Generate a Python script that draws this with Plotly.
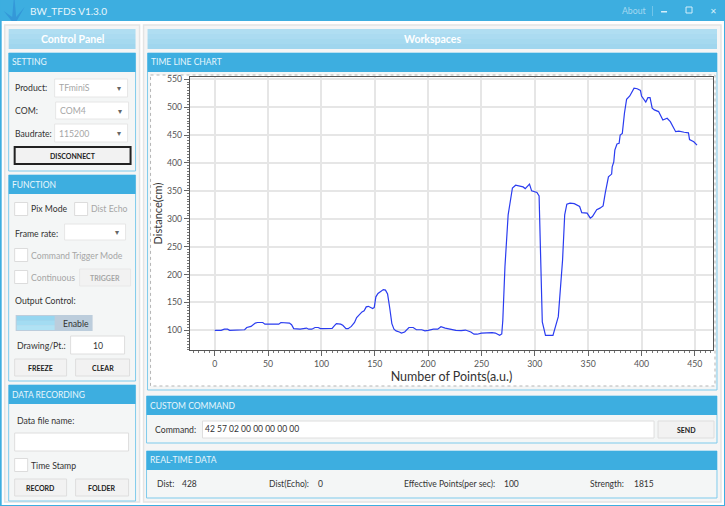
"""
BW_TFDS time line chart - the app window rebuilt around one Plotly line chart.
"""

import plotly.graph_objects as go

# ── Data ───────────────────────────────────────────────────────────────────────

point_index = [
    0, 6, 9, 12, 14, 22, 28, 30, 34, 38, 40, 45, 47, 55, 60, 62, 65, 70, 72, 74,
    80, 84, 86, 88, 91, 94, 97, 99, 104, 107, 110, 112, 114, 118, 120, 123, 125,
    128, 131, 133, 136, 138, 140, 142, 144, 146, 148, 149.5, 151, 153, 156, 158,
    160, 162, 164, 166, 168, 170, 173, 175, 178, 180, 182, 186, 189, 194, 197,
    200, 205, 209, 212, 216, 221, 226, 231, 235, 240, 243, 246, 250, 260, 263,
    267, 269, 270, 272, 275, 277, 279, 282, 285, 289, 291, 293, 295, 297, 302,
    304, 305, 307, 310, 317, 322, 326, 328, 330, 333, 337, 342, 344, 349, 352,
    354, 358, 361, 364, 366, 369, 372, 372.5, 374, 375, 377, 379, 380, 382, 384,
    386, 389, 391, 393, 396, 399, 400, 404, 406, 408, 410, 412, 416, 420, 424,
    427, 432, 435, 440, 444, 445, 449, 452,
]
distance_cm = [
    100, 100, 102, 102, 100, 100.5, 101, 105, 107, 113, 114, 114, 111, 111, 111,
    114, 114, 113, 110, 103, 102, 103, 104, 102, 102, 105, 105, 103, 103, 104,
    103.5, 108, 112, 111, 109, 103, 103, 107, 114, 123, 129, 133, 135, 142, 143,
    141, 139, 141, 160, 166, 171, 173, 172, 165, 140, 112, 102, 99, 97, 95, 97,
    101, 105, 105, 101, 101, 99, 100, 102, 102, 106.5, 104, 102, 100, 99.5, 100.5,
    97, 93, 93, 95, 96, 95, 91, 93.5, 118, 214, 307, 334, 355, 360, 359, 357, 354,
    359, 362, 350, 347, 341, 268, 115, 91, 91, 124.5, 226, 307, 326, 328, 327,
    322, 311, 310, 301, 304, 316, 319, 323, 346, 375, 380, 393, 402, 423, 434,
    435, 450, 453, 489, 514, 520, 528, 534, 533, 530, 520, 509, 517, 517, 498,
    495, 492, 477, 480, 474, 456, 457, 455, 454, 442, 438, 432,
]

x_ticks = [0, 50, 100, 150, 200, 250, 300, 350, 400, 450]
y_ticks = [100, 150, 200, 250, 300, 350, 400, 450, 500, 550]

# ── Colours and window layout (pixels of the 725x506 window) ───────────────────

BLUE = "#3daee0"
EDGE = "#7fcbec"
PANEL = "#f4f6f6"
CARD = "#f5f5f5"
BUTTON = "#f2f2f2"
GREY_LINE = "#dedede"
TEXT = "#333333"
FADED = "#a6a6a6"
FONT = "Lato"

PLOT_L, PLOT_R, PLOT_T, PLOT_B = 189.5, 713, 77, 350
WIDTH, HEIGHT = 725, 506

shapes = []
notes = []


def px(x):
    return (x - PLOT_L) / (PLOT_R - PLOT_L)


def py(y):
    return (PLOT_B - y) / (PLOT_B - PLOT_T)


def box(x0, y0, x1, y1, fill=None, line=None, lw=1, dash=None):
    """Rectangle given in window pixels."""
    shapes.append(dict(
        type="rect", xref="paper", yref="paper", layer="below",
        x0=px(x0), x1=px(x1), y0=py(y0), y1=py(y1),
        fillcolor=fill or "rgba(0,0,0,0)",
        line=dict(color=line or "rgba(0,0,0,0)", width=lw if line else 0, dash=dash),
    ))


def label(x, y, text, size=8.7, color=TEXT, anchor="left", bold=False):
    """Text placed at window pixels, y is the middle of the line."""
    notes.append(dict(
        xref="paper", yref="paper", x=px(x - 3 if anchor == "left" else x), y=py(y),
        text=f"<b>{text}</b>" if bold else text,
        showarrow=False, xanchor=anchor, yanchor="middle",
        font=dict(family=FONT, size=size, color=color),
    ))


def gradient_bar(x0, y0, x1, y1, top, bottom, steps=4):
    """Light blue bar, faded in a few flat strips."""
    tr, tg, tb = top
    br, bg, bb = bottom
    h = (y1 - y0) / steps
    for i in range(steps):
        t = i / (steps - 1)
        c = f"rgb({tr + (br - tr) * t:.0f},{tg + (bg - tg) * t:.0f},{tb + (bb - tb) * t:.0f})"
        box(x0, y0 + i * h, x1, y0 + (i + 1) * h, fill=c)


def section(x0, y0, x1, y1, title):
    """Panel with a blue header strip."""
    box(x0, y0, x1, y1, fill=PANEL, line=EDGE)
    box(x0, y0, x1, y0 + 19, fill=BLUE)
    label(x0 + 4, y0 + 9.5, title, size=8.5, color="#e8f6fc")


def button(x0, y0, x1, y1, text, color="#222222", line=GREY_LINE, lw=1):
    box(x0, y0, x1, y1, fill=BUTTON, line=line, lw=lw)
    label((x0 + x1) / 2, (y0 + y1) / 2, text, size=7, color=color, anchor="center", bold=True)


def combo(x0, y0, x1, y1, text=""):
    box(x0, y0, x1, y1, fill="#ffffff", line="#e6e6e6")
    if text:
        label(x0 + 5, (y0 + y1) / 2, text, color=FADED)
    label(x1 - 9, (y0 + y1) / 2, "▾", size=8, color="#666666", anchor="center")


def check(x, y, text, color=TEXT):
    box(x, y - 6.5, x + 13, y + 6.5, fill="#ffffff", line="#dcdcdc")
    label(x + 17, y, text, color=color)


# ── Window chrome ──────────────────────────────────────────────────────────────

box(0, 0, WIDTH, HEIGHT, fill="#ffffff", line=BLUE, lw=2)
box(0, 0, WIDTH, 21, fill=BLUE)
shapes.append(dict(
    type="path", xref="paper", yref="paper", layer="below",
    path=(f"M {px(3)} {py(11)} L {px(11.5)} {py(17)} L {px(13)} {py(0)} L {px(14)} {py(0)} "
          f"L {px(15.5)} {py(17)} L {px(24)} {py(7)} L {px(16)} {py(21)} L {px(11)} {py(21)} Z"),
    fillcolor="#3498d8", line=dict(width=0),
))
label(30, 10.5, "BW_TFDS V1.3.0", size=10, color="#e8f6fc")
label(634, 10.5, "About", size=8.7, color="#a5d9f1", anchor="center")
box(652.3, 6, 652.8, 16, fill="#a5d9f1")
box(661, 11, 667, 12.5, fill="#d5eefa")
box(686, 7, 692, 13, line="#d5eefa")
label(713, 10.5, "✕", size=8, color="#d5eefa", anchor="center")

# left and right column cards
box(4, 25, 139, 502, fill=CARD, line="#e4e4e4", lw=1.5)
box(143, 25, 721, 502, fill=CARD, line="#e4e4e4", lw=1.5)

gradient_bar(8, 29, 135, 49, (176, 222, 242), (160, 214, 238))
label(71.5, 39, "Control Panel", size=10.5, color="#ffffff", anchor="center", bold=True)
gradient_bar(147, 29, 717, 49, (176, 222, 242), (160, 214, 238))
label(432, 39, "Workspaces", size=10.5, color="#ffffff", anchor="center", bold=True)

# ── SETTING ───────────────────────────────────────────────────────────────────

section(8, 53, 135, 171, "SETTING")
label(15, 88, "Product:")
combo(54, 79, 127, 97, "TFminiS")
label(15, 110.5, "COM:")
combo(55, 102, 128, 119, "COM4")
label(15, 133, "Baudrate:")
combo(54, 124, 127, 142, "115200")
button(14, 147, 130, 164, "DISCONNECT", line="#222222", lw=2)

# ── FUNCTION ──────────────────────────────────────────────────────────────────

section(8, 175, 135, 381, "FUNCTION")
check(14, 209, "Pix Mode")
check(74, 209, "Dist Echo", color=FADED)
label(15, 233, "Frame rate:")
combo(64, 224, 125, 240)
check(14, 255, "Command Trigger Mode", color=FADED)
check(14, 277, "Continuous", color=FADED)
button(79, 269, 130, 286, "TRIGGER", color=FADED, line="#e8e8e8")
label(15, 300, "Output Control:")
box(15, 315, 92, 331, fill="#bccddc")
gradient_bar(16, 316, 54, 330, (150, 214, 240), (176, 226, 244), steps=3)
label(75, 323, "Enable", anchor="center")
label(17, 345, "Drawing/Pt.:")
box(70, 336, 124, 354, fill="#ffffff", line=GREY_LINE)
label(97, 345, "10", anchor="center")
button(14, 359, 66, 376, "FREEZE")
button(75, 359, 129, 376, "CLEAR")

# ── DATA RECORDING ────────────────────────────────────────────────────────────

section(8, 385, 135, 501, "DATA RECORDING")
label(17, 420, "Data file name:")
box(14, 433, 128, 451, fill="#ffffff", line=GREY_LINE)
check(14, 465, "Time Stamp")
button(14, 479, 66, 496, "RECORD")
button(75, 479, 128, 496, "FOLDER")

# ── Chart panel ───────────────────────────────────────────────────────────────

section(147, 53, 717, 390, "TIME LINE CHART")
box(150, 75, 715, 386, fill="#ffffff", line="#b5b5b5", lw=1, dash="dot")

# ── Custom command and real-time data ─────────────────────────────────────────

section(146, 396, 717, 443, "CUSTOM COMMAND")
label(155, 429, "Command:")
box(202, 421, 654, 438, fill="#ffffff", line=GREY_LINE)
label(206, 429, "42 57 02 00 00 00 00 00", size=8.5)
button(658, 421, 714, 438, "SEND")

section(146, 451, 717, 498, "REAL-TIME DATA")
label(157, 484, "Dist:", size=8.5)
label(182, 484, "428", size=8.5)
label(270, 484, "Dist(Echo):", size=8.5)
label(319, 484, "0", size=8.5)
label(405, 484, "Effective Points(per sec):", size=8.5)
label(505, 484, "100", size=8.5)
label(591, 484, "Strength:", size=8.5)
label(635, 484, "1815", size=8.5)

# ── Figure ────────────────────────────────────────────────────────────────────

fig = go.Figure(go.Scatter(
    x=point_index, y=distance_cm, mode="lines",
    line=dict(color="#2a3cf0", width=1.2),
    showlegend=False,
))

fig.update_layout(
    width=WIDTH, height=HEIGHT,
    margin=dict(l=PLOT_L, r=WIDTH - PLOT_R, t=PLOT_T, b=HEIGHT - PLOT_B),
    paper_bgcolor="#ffffff", plot_bgcolor="#ffffff",
    font=dict(family=FONT, color=TEXT),
    shapes=shapes, annotations=notes,
)

axis_style = dict(
    showgrid=True, gridcolor="#e6e6e6", gridwidth=1.5, zeroline=False,
    showline=True, linecolor="#555555", linewidth=1.3, mirror=True,
    ticks="outside", ticklen=5, tickwidth=1, tickcolor="#666666",
    tickfont=dict(family=FONT, size=8.7, color="#555555"),
)
minor_style = dict(ticks="outside", ticklen=2, tickwidth=1, tickcolor="#777777", dtick=5, tick0=0, showgrid=False)

fig.update_xaxes(
    range=[-23.2, 467], tickmode="array", tickvals=x_ticks,
    title=dict(text="Number of Points(a.u.)", font=dict(family=FONT, size=12.5, color="#333333"), standoff=4),
    minor=minor_style, **axis_style,
)
fig.update_yaxes(
    range=[64.7, 554], tickmode="array", tickvals=y_ticks,
    title=dict(text="Distance(cm)", font=dict(family=FONT, size=11, color="#333333"), standoff=2),
    minor=minor_style, **axis_style,
)

# page margin off, otherwise the 725x506 figure sits 8px in and gets cut
fig.write_html(
    "out.html",
    config={"displayModeBar": False},
    post_script="document.body.style.margin='0';document.body.style.overflow='hidden';",
)
